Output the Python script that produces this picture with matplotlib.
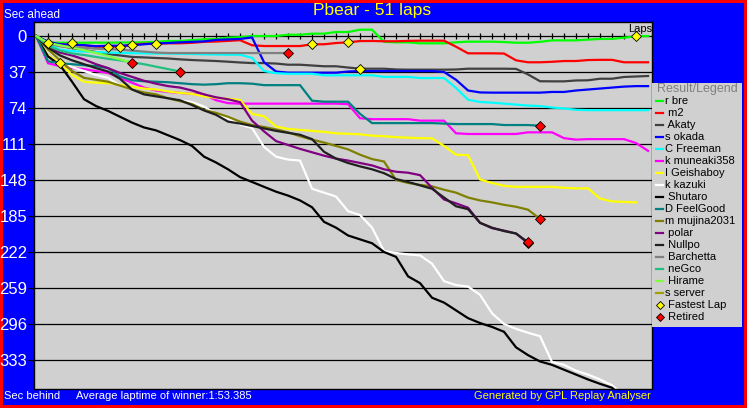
import matplotlib
matplotlib.use("Agg")
import matplotlib.pyplot as plt
from matplotlib.patches import Rectangle
from matplotlib.lines import Line2D
import numpy as np

W, H = 747, 408

# seconds behind the winner's average pace, one value per lap starting at lap 0
r_bre = [0, 6.9, 6.9, 6.9, 6.9, 6.8, 6.8, 6.7, 6.6, 6.5, 6.0, 5.1, 5.1, 4.2, 3.4, 3.0, 1.7, 1.2,
         0.0, 0.0, 0.0, -1.3, -1.3, -2.4, -2.4, -4.1, -4.1, -6.5, -6.5, 6.0, 6.5, 6.5, 7.5, 7.5,
         7.5, 6.5, 5.8, 5.8, 5.8, 6.2, 6.9, 6.9, 6.0, 4.5, 4.5, 4.5, 3.7, 3.0, 3.0, 1.7, 0.3, 0.0]
m2 = [0, 8, 8.5, 9, 9.5, 11, 11, 10.8, 9, 8, 8.2, 7.5, 7.5, 7, 6, 5.7, 5, 4.3, 9.5, 10.3, 10.3,
      10.3, 10.3, 8.5, 8.5, 7.2, 6.5, 5.2, 5.1, 5.4, 5.4, 5.0, 4.8, 4.8, 4.8, 11, 17.8, 17.8,
      17.8, 18, 25, 27, 27, 26.5, 25.7, 25.7, 24.7, 24.5, 24.5, 27, 27, 27]
akaty = [0, 6, 10, 12.5, 14.5, 16.5, 18.5, 20, 21.5, 22, 22.6, 23.1, 24, 24.7, 25.2, 25.7, 26.4,
         27.2, 27.8, 27.8, 28.3, 29.5, 29.5, 30.3, 31.1, 31.1, 32.4, 33.6, 33.6, 33.6, 34.4, 34.6,
         34.6, 34.6, 34.6, 34.4, 33.6, 33.6, 33.6, 33.6, 33.8, 39.5, 46.5, 46.6, 46.6, 45.7, 45.5,
         43.9, 43.9, 42.1, 41.6, 41.1]
s_okada = [0, 6, 8.5, 9, 9.5, 10.5, 10, 10, 9.5, 8.5, 7.5, 7.2, 6.5, 6, 5.5, 4, 3.5, 3, 1.5, 27,
           36.5, 37.7, 37.7, 37.7, 37.7, 37.7, 36.5, 36, 36, 36, 36, 36, 36, 36, 37, 45, 56, 58,
           58.2, 58.2, 58.2, 58.2, 58.2, 57.5, 57.5, 56, 55, 54, 53, 52, 51.5, 51.5]
c_freeman = [0, 8, 14, 15.5, 16, 16.5, 17, 17.3, 17.6, 17.8, 18, 18, 18.3, 18.5, 18.8, 19, 19.2,
             19.2, 22.5, 36, 38.2, 38.8, 38.8, 38.8, 40.4, 40.4, 40.4, 40.4, 40.4, 42, 42, 42, 43.2,
             43.2, 43.2, 53.5, 65.5, 67.8, 68.5, 69.5, 70.5, 71.5, 72, 73.5, 74.5, 75.8, 76.2,
             76.2, 76.2, 76.2, 76.2, 76.2]
k_muneaki358 = [0, 28, 31, 33, 34, 36, 38, 43, 48, 53, 56, 57.5, 58.5, 59.5, 60, 66, 69, 69.5,
                69.5, 69.5, 69.5, 69.5, 69.5, 69.5, 69.5, 69.5, 70, 84.5, 85.5, 85.5, 85.5, 85.5,
                87, 87, 87, 100, 100.7, 100.7, 100.7, 100.7, 100.7, 99, 99, 99, 105, 106.5, 106,
                106, 106, 106, 110, 118]
i_geishaboy = [0, 20, 28, 40, 47, 48, 48.5, 50, 52, 54, 55, 57, 58.5, 59.5, 62, 63.5, 64.5, 65.8,
               80, 82.5, 93, 95.5, 96.5, 97.5, 98.5, 100, 100.5, 101, 102.5, 103, 104, 104.5, 105,
               105.2, 113, 122, 122.5, 147.5, 151, 154, 155, 155, 155, 155, 156, 156.6, 156.6,
               167, 170, 170.5, 171]
k_kazuki = [0, 15, 25, 32, 36, 40, 43, 51, 55, 58, 61, 64, 66, 68, 72.5, 80, 85, 91, 94.5, 114,
            124, 127, 128, 157, 161, 165, 180, 184, 197, 221, 223, 224.5, 225.5, 234, 252, 256,
            257.5, 266, 285, 296, 301, 305, 308.5, 335, 338, 344, 348, 353, 359, 370]
shutaro = [0, 21, 30, 47, 65, 72, 77, 83, 89, 94, 97, 102, 107, 113, 124, 130, 137, 145, 150, 155,
           160, 164, 169, 176, 191, 197, 205, 209, 213, 222, 227, 247, 254, 269, 274, 282, 290,
           295, 299, 304, 320, 328, 334.5, 338, 343, 348, 353, 357.5, 361.5, 372]
d_feelgood = [0, 26, 28, 29, 30, 31, 33, 41.5, 45.5, 46.5, 47, 47.5, 48.5, 49.5, 50, 49.5, 48.5,
              48.5, 49, 50.5, 50.5, 50.5, 50.5, 66.5, 67.5, 67.5, 67.5, 80, 89.5, 89.5, 89.5, 89.5,
              89.5, 89.5, 90, 90.5, 90.5, 90.5, 90.5, 91.5, 91.5, 91.5, 92.2]
m_mujina2031 = [0, 14, 25, 36, 43, 45, 47, 51, 55, 58, 60, 64, 67, 70, 76, 79, 83, 88, 91.5, 93.5,
                96, 99, 103, 106.5, 109.5, 113, 116.5, 122, 126.5, 129, 148, 151, 153, 154.5, 158,
                161, 166, 169, 171, 173.5, 175.5, 178.5, 188]
polar = [0, 12, 17, 20, 24, 29, 33, 38, 42, 46, 49, 51.5, 53, 56, 60, 63, 65, 68, 87, 98, 108,
         112, 116, 119.5, 123, 126, 128, 130.5, 133, 137, 139.5, 140.5, 143, 156, 168, 172, 176.5,
         192, 197.5, 200, 203, 213]
nullpo = [0, 12, 20, 25, 29, 33, 36.5, 44, 55, 60, 62, 64, 66, 71, 76.5, 81, 88, 90, 92.5, 95,
          97.5, 99.5, 101.5, 106, 119, 126, 130.5, 134, 137, 141, 147, 150, 153.5, 157, 166, 175,
          178, 192, 197, 200.5, 203, 212]
barchetta = [0, 8, 10.5, 11.5, 12, 13, 13.5, 14, 15, 16, 17, 17.5, 17.5, 17.5, 17.5, 17.5, 17.5,
             17.5, 17.5, 17.5, 17.5, 17.5]
negco = [0, 10, 15, 18, 19.5, 21.5, 23.5, 25, 27, 29, 31.5, 34, 36.5]
hirame = [0, 7, 9.5, 12, 14.5, 17.5, 20.5, 24, 27.5]
s_server = [0]

drivers = ["r bre", " m2", " Akaty", "s okada", "C Freeman", "k muneaki358", "I Geishaboy",
           "k kazuki", " Shutaro", "D FeelGood", "m mujina2031", " polar", " Nullpo",
           " Barchetta", " neGco", " Hirame", "s server"]
series = [r_bre, m2, akaty, s_okada, c_freeman, k_muneaki358, i_geishaboy, k_kazuki, shutaro,
          d_feelgood, m_mujina2031, polar, nullpo, barchetta, negco, hirame, s_server]
colors = ["#00ff00", "#ff0000", "#404040", "#0000ff", "#00ffff", "#ff00ff", "#ffff00", "#ffffff",
          "#000000", "#008080", "#808000", "#800080", "#202020", "#808080", "#20c080", "#80ff40",
          "#a0a000"]

# (driver index, lap) of each new fastest lap
fastest_laps = [(0, 1), (6, 2), (0, 3), (1, 6), (1, 7), (1, 8), (1, 10), (1, 23), (1, 26),
                (2, 27), (0, 50)]
# drivers who retired: marker on their last lap
retired = [15, 14, 13, 11, 12, 9, 10]

y_ticks = [0, 37, 74, 111, 148, 185, 222, 259, 296, 333]
lap_marks = list(range(1, 51))
total_laps = 51


def fx(x):
    return x / W


def fy(y):
    return 1 - y / H


fig = plt.figure(figsize=(W / 100, H / 100), dpi=100, facecolor="#ff0000")
fig.add_artist(Rectangle((fx(3), fy(405)), fx(741), 402 / H, transform=fig.transFigure,
                         facecolor="#0000ff", edgecolor="none", zorder=-5))

ax = fig.add_axes([fx(34), fy(389), fx(618), 367 / H])
ax.set_facecolor("#d0d0d0")
for s in ax.spines.values():
    s.set_color("black")
    s.set_linewidth(1)

ax.set_xlim(-0.17, total_laps + 0.33)
ax.set_ylim(362.8, -14.4)

ax.set_yticks(y_ticks)
ax.set_yticklabels([str(v) for v in y_ticks], color="white",
                   family=["Liberation Sans Narrow", "Liberation Sans"], fontsize=12)
ax.tick_params(axis="y", length=4, width=0.8, color="black", pad=1)
ax.set_xticks([])
for v in y_ticks[1:]:
    ax.axhline(v, color="black", lw=0.9, zorder=1)
ax.axhline(0, color="black", lw=0.9, zorder=1)
ax.plot(lap_marks, [0] * len(lap_marks), ls="none", marker="|", ms=5, mew=0.9,
        color="black", zorder=1)

for vals, col in zip(series, colors):
    ax.plot(np.arange(len(vals)), vals, color=col, lw=1.6, zorder=2,
            solid_joinstyle="miter")

for di, lap in fastest_laps:
    ax.plot(lap, series[di][lap], marker="D", ms=5, mfc="#ffff00", mec="black", mew=0.6,
            zorder=4)
for di in retired:
    vals = series[di]
    ax.plot(len(vals) - 1, vals[-1], marker="D", ms=5, mfc="#ff0000", mec="black", mew=0.6,
            zorder=4)

fnt = "Liberation Sans"
ax.text(1.0, 0.995, "Laps", transform=ax.transAxes, ha="right", va="top", fontsize=8,
        family=fnt, color="black")

fig.text(fx(372), fy(10), "Pbear - 51 laps", ha="center", va="center", color="#ffff00",
         fontsize=12.5, family=fnt)
fig.text(fx(4), fy(15.5), "Sec ahead", ha="left", va="center", color="white", fontsize=8.5,
         family=fnt)
fig.text(fx(4), fy(396), "Sec behind", ha="left", va="center", color="white", fontsize=8,
         family=fnt)
fig.text(fx(76), fy(396), "Average laptime of winner:1:53.385", ha="left", va="center",
         color="white", fontsize=8, family=fnt)
fig.text(fx(651), fy(396), "Generated by GPL Replay Analyser", ha="right", va="center",
         color="#ffff00", fontsize=8, family=fnt)

# legend panel on the right
fig.add_artist(Rectangle((fx(652), fy(327)), fx(90), 244 / H, transform=fig.transFigure,
                         facecolor="#d0d0d0", edgecolor="none", zorder=2))
fig.text(fx(657), fy(89), "Result/Legend", ha="left", va="center", color="#808080",
         fontsize=9, family=fnt, zorder=3)
row0, pitch = 101, 12.0
for i, (name, col) in enumerate(zip(drivers, colors)):
    yy = fy(row0 + i * pitch)
    fig.add_artist(Line2D([fx(656), fx(663)], [yy, yy], color=col, lw=1.6,
                          transform=fig.transFigure, zorder=3))
    fig.text(fx(665), yy, name, ha="left", va="center", fontsize=8, family=fnt,
             color="black", zorder=3)
for j, (name, face) in enumerate([(" Fastest Lap", "#ffff00"), (" Retired", "#ff0000")]):
    yy = fy(row0 + (len(drivers) + j) * pitch)
    fig.add_artist(Line2D([fx(659.5)], [yy], marker="D", ms=4.5, mfc=face, mec="black",
                          mew=0.6, ls="none", transform=fig.transFigure, zorder=3))
    fig.text(fx(665), yy, name, ha="left", va="center", fontsize=8, family=fnt,
             color="black", zorder=3)

fig.savefig("out.png", dpi=100, facecolor=fig.get_facecolor())
